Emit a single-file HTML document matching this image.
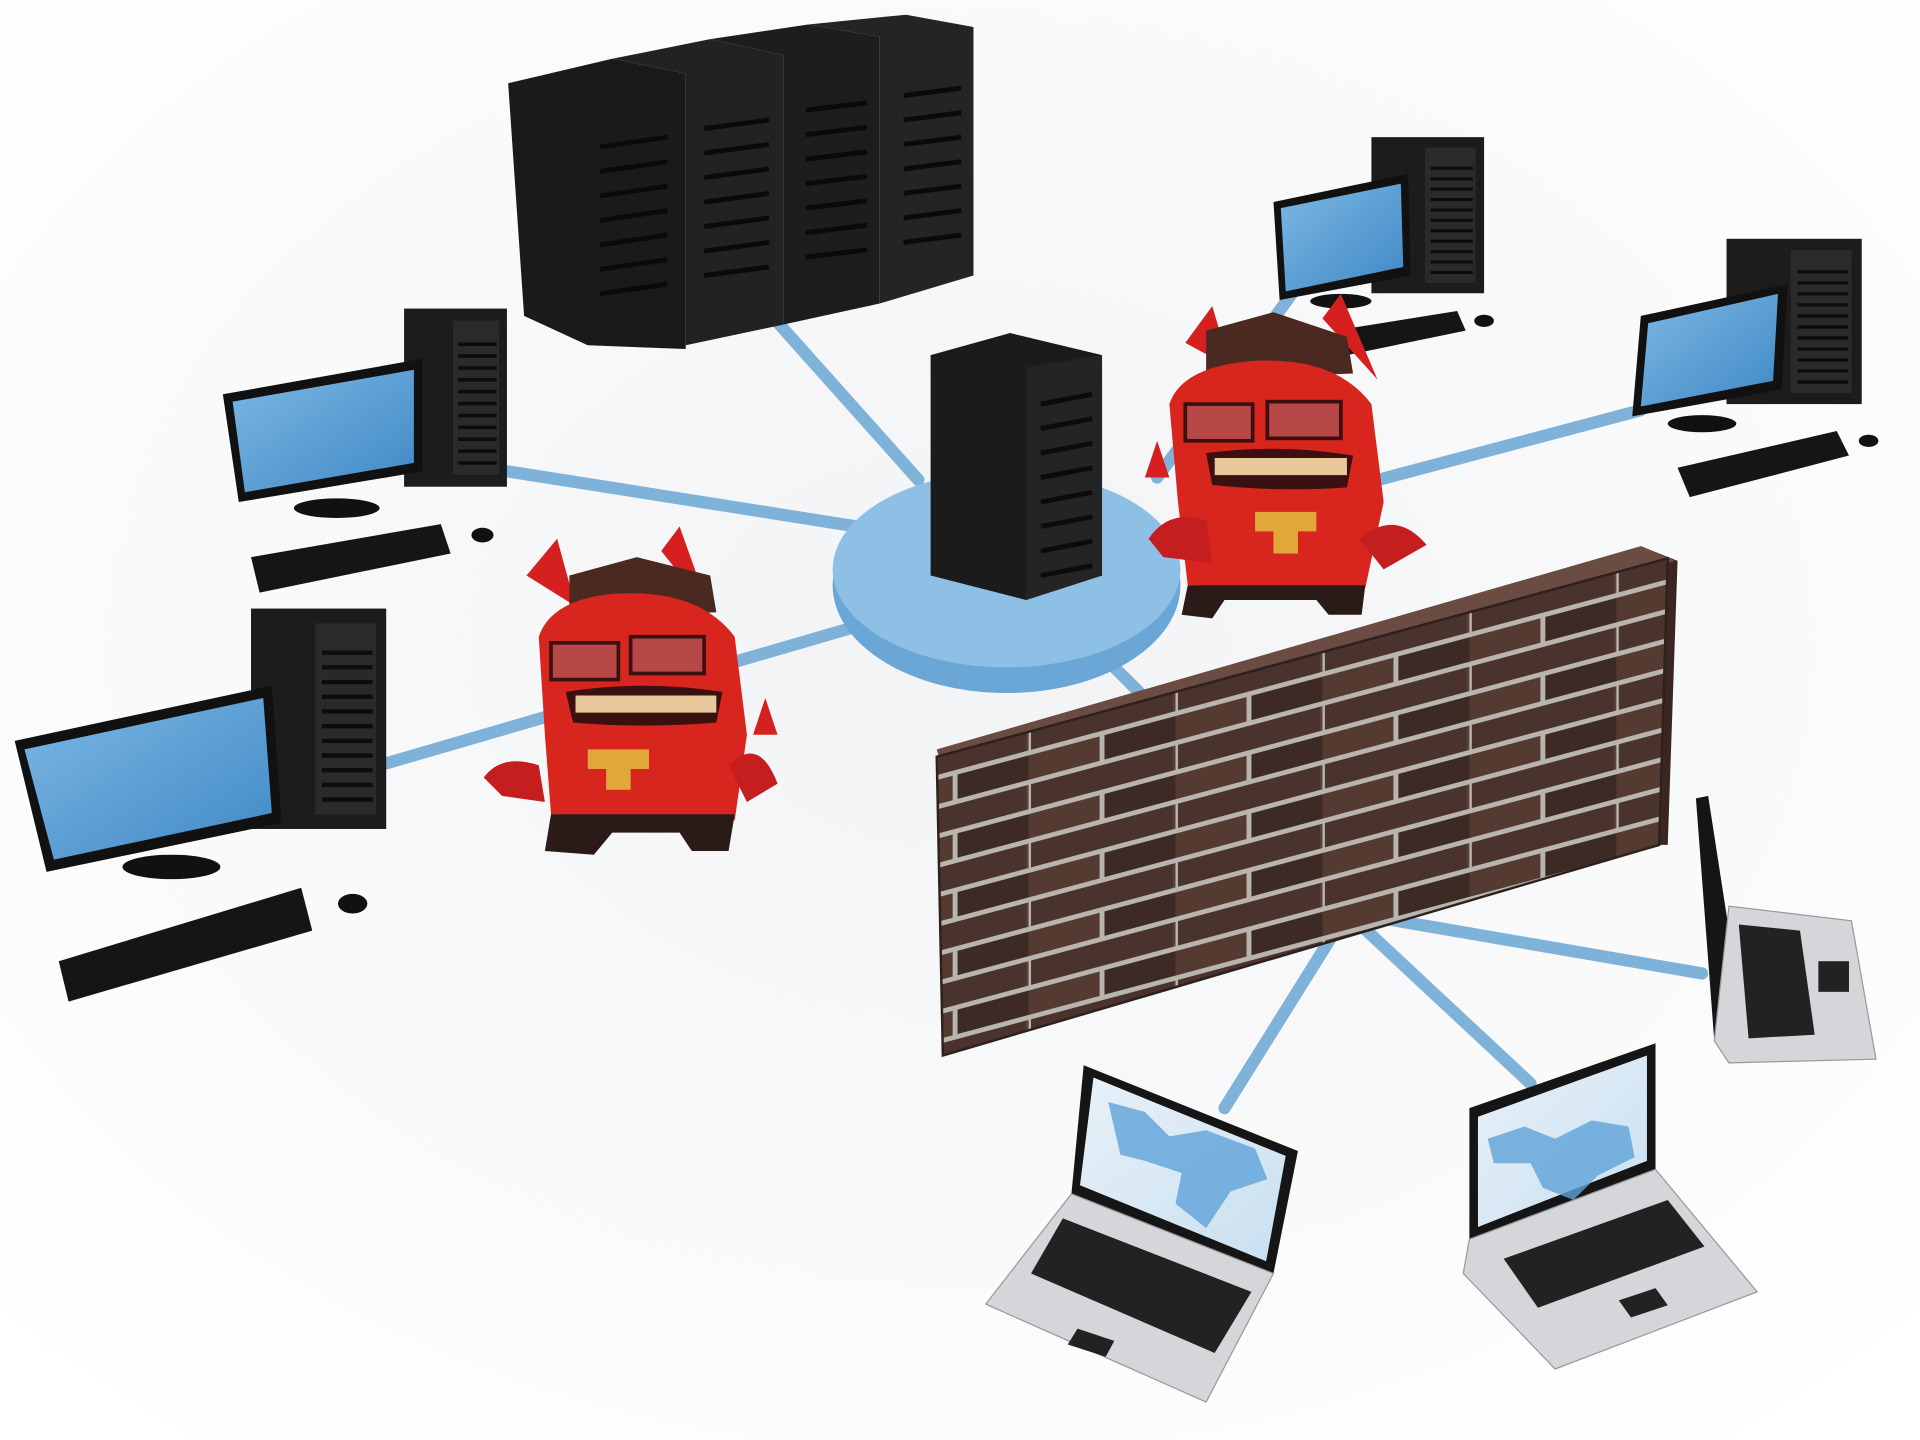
<!DOCTYPE html>
<html><head><meta charset="utf-8"><style>html,body{margin:0;padding:0;background:#fff;width:1920px;height:1440px;overflow:hidden}svg{display:block}</style></head>
<body>
<svg width="1920" height="1440" viewBox="0 0 1568 1176" preserveAspectRatio="none" xmlns="http://www.w3.org/2000/svg">
<defs>
<radialGradient id="bg" cx="0.5" cy="0.45" r="0.7"><stop offset="0" stop-color="#f2f3f5"/><stop offset="1" stop-color="#ffffff"/></radialGradient>
<linearGradient id="scr" x1="0" y1="0" x2="1" y2="1"><stop offset="0" stop-color="#7db7e3"/><stop offset="1" stop-color="#3f89c6"/></linearGradient>
<linearGradient id="lscr" x1="0" y1="0" x2="1" y2="1"><stop offset="0" stop-color="#e8f1f8"/><stop offset="1" stop-color="#c9dff0"/></linearGradient>
<pattern id="brick" width="120" height="48" patternUnits="userSpaceOnUse" patternTransform="skewY(-15)">
<rect width="120" height="48" fill="#5a4038"/>
<rect x="2" y="2" width="116" height="20" fill="#4a332c"/>
<rect x="-58" y="26" width="116" height="20" fill="#553a31"/>
<rect x="62" y="26" width="116" height="20" fill="#3e2a24"/>
<path d="M0 0H120M0 24H120M0 48H120M0 0V24M60 24V48" stroke="#b8b4ae" stroke-width="4"/>
</pattern>
<g id="tower"><rect x="0" y="0" width="80" height="150" fill="#1c1c1c"/><rect x="38" y="10" width="36" height="130" fill="#2a2a2a"/>
<g stroke="#0c0c0c" stroke-width="3"><path d="M42 30H72M42 40H72M42 50H72M42 60H72M42 70H72M42 80H72M42 90H72M42 100H72M42 110H72M42 120H72M42 130H72"/></g></g>
</defs>
<rect width="1568" height="1176" fill="url(#bg)"/>
<g stroke="#7fb2d8" stroke-width="10" stroke-linecap="round" fill="none">
<path d="M625 252L750 392"/><path d="M415 385L700 430"/><path d="M310 625L705 510"/>
<path d="M1095 400L1340 335"/><path d="M945 390L1055 240"/><path d="M910 545L935 570"/>
<path d="M1100 745L1000 905"/><path d="M1100 745L1250 885"/><path d="M1100 745L1390 795"/>
</g>
<g>
<polygon points="415,68 500,48 560,60 560,285 480,282 428,258" fill="#1a1a1a"/>
<polygon points="500,48 580,32 640,45 640,265 560,282 560,60" fill="#222"/>
<polygon points="580,32 660,20 718,30 718,248 640,265 640,45" fill="#1d1d1d"/>
<polygon points="660,20 740,12 795,22 795,225 718,248 718,30" fill="#242424"/>
<g stroke="#0a0a0a" stroke-width="4">
<path d="M490 120L545 112M490 140L545 132M490 160L545 152M490 180L545 172M490 200L545 192M490 220L545 212M490 240L545 232"/>
<path d="M575 105L628 98M575 125L628 118M575 145L628 138M575 165L628 158M575 185L628 178M575 205L628 198M575 225L628 218"/>
<path d="M658 90L708 84M658 110L708 104M658 130L708 124M658 150L708 144M658 170L708 164M658 190L708 184M658 210L708 204"/>
<path d="M738 78L785 72M738 98L785 92M738 118L785 112M738 138L785 132M738 158L785 152M738 178L785 172M738 198L785 192"/>
</g></g>
<ellipse cx="822" cy="478" rx="142" ry="88" fill="#6aa7d6"/>
<ellipse cx="822" cy="465" rx="142" ry="80" fill="#8ec0e6"/>
<polygon points="760,290 825,272 900,290 900,470 838,490 760,470" fill="#1b1b1b"/>
<polygon points="838,300 900,290 900,470 838,490" fill="#242424"/>
<g stroke="#0b0b0b" stroke-width="4"><path d="M850 330L892 322M850 350L892 342M850 370L892 362M850 390L892 382M850 410L892 402M850 430L892 422M850 450L892 442M850 470L892 462"/></g>
<g>
<use href="#tower" transform="translate(330,252) scale(1.05,0.97)"/>
<polygon points="182,322 345,293 345,385 195,410" fill="#111"/><polygon points="190,328 338,302 338,378 200,402" fill="url(#scr)"/>
<ellipse cx="275" cy="415" rx="35" ry="8" fill="#111"/>
<polygon points="205,455 360,428 368,452 212,484" fill="#151515"/><ellipse cx="394" cy="437" rx="9" ry="6" fill="#111"/>
</g>
<g>
<use href="#tower" transform="translate(205,497) scale(1.38,1.2)"/>
<polygon points="12,605 222,560 230,672 38,712" fill="#111"/><polygon points="20,612 215,570 222,664 44,702" fill="url(#scr)"/>
<ellipse cx="140" cy="708" rx="40" ry="10" fill="#111"/>
<polygon points="48,785 246,725 255,760 56,818" fill="#151515"/><ellipse cx="288" cy="738" rx="12" ry="8" fill="#111"/>
</g>
<g>
<use href="#tower" transform="translate(1120,112) scale(1.15,0.85)"/>
<polygon points="1040,165 1150,142 1152,225 1045,245" fill="#111"/><polygon points="1046,170 1144,150 1146,218 1050,238" fill="url(#scr)"/>
<ellipse cx="1095" cy="246" rx="25" ry="6" fill="#111"/>
<polygon points="1090,270 1190,254 1197,270 1100,290" fill="#151515"/><ellipse cx="1212" cy="262" rx="8" ry="5" fill="#111"/>
</g>
<g>
<use href="#tower" transform="translate(1410,195) scale(1.38,0.9)"/>
<polygon points="1340,258 1460,232 1455,318 1333,340" fill="#111"/><polygon points="1346,264 1452,240 1448,311 1340,332" fill="url(#scr)"/>
<ellipse cx="1390" cy="346" rx="28" ry="7" fill="#111"/>
<polygon points="1370,382 1500,352 1510,372 1380,406" fill="#151515"/><ellipse cx="1526" cy="360" rx="8" ry="5" fill="#111"/>
</g>
<polygon points="1340,446 1370,458 1362,690 1350,690" fill="#3a2722"/>
<polygon points="765,612 1340,446 1368,458 770,630" fill="#6a4c42"/>
<polygon points="765,618 1362,456 1355,690 770,862" fill="url(#brick)"/>
<polygon points="765,618 1362,456 1355,690 770,862" fill="none" stroke="#2e201c" stroke-width="2"/>
<g>
<polygon points="885,870 1060,940 1040,1040 875,975" fill="#151515"/><polygon points="893,880 1050,944 1034,1030 882,968" fill="url(#lscr)"/>
<path d="M905 900l30 8 20 20 30-5 40 15 10 25-30 10-20 30-25-20 5-25-30-10-20-5z" fill="#5fa3d8" opacity=".8"/>
<polygon points="875,975 1040,1040 985,1145 805,1065" fill="#d4d6d9" stroke="#999"/>
<polygon points="868,995 1022,1055 992,1105 842,1040" fill="#222"/><polygon points="880,1085 910,1095 903,1108 872,1098" fill="#222"/>
</g>
<g>
<polygon points="1200,905 1352,852 1352,955 1200,1012" fill="#151515"/><polygon points="1207,912 1345,862 1345,948 1207,1002" fill="url(#lscr)"/>
<path d="M1215 930l30-10 25 10 30-15 30 5 5 25-30 15-20 20-25-10-10-20-30 0z" fill="#5fa3d8" opacity=".8"/>
<polygon points="1200,1012 1352,955 1435,1055 1270,1118 1195,1040" fill="#d4d6d9" stroke="#999"/>
<polygon points="1228,1028 1362,980 1392,1018 1256,1068" fill="#222"/><polygon points="1322,1062 1352,1052 1362,1066 1332,1076" fill="#222"/>
</g>
<g>
<polygon points="1385,652 1395,650 1412,760 1410,848 1400,850" fill="#151515"/>
<polygon points="1400,850 1412,740 1512,752 1532,865 1412,868" fill="#d4d6d9" stroke="#999"/>
<polygon points="1420,755 1470,760 1482,845 1428,848" fill="#222"/><rect x="1485" y="785" width="25" height="25" fill="#222"/>
</g>
<g>
<path d="M430 470L455 440 470 495Z M540 450L555 430 580 500Z" fill="#d62020"/>
<path d="M465 470L520 455 580 470 585 500 465 505Z" fill="#4a2a20"/>
<path d="M440 520Q450 490 500 485Q570 480 600 520L610 600 600 670 450 665 445 600Z" fill="#d8261f"/>
<rect x="450" y="525" width="55" height="30" fill="#b84848" stroke="#3a1010" stroke-width="3"/><rect x="515" y="520" width="60" height="30" fill="#b84848" stroke="#3a1010" stroke-width="3"/>
<path d="M462 565Q525 555 590 565L585 590Q525 595 468 590Z" fill="#3a1010"/><path d="M470 568H585V582H470Z" fill="#e8c89a"/>
<path d="M480 612H530V628H515V645H495V628H480Z" fill="#e0a83a"/>
<path d="M395 635Q410 615 440 625L445 655 410 650Z M595 625Q620 600 635 640L610 655Z" fill="#c41e1e"/>
<path d="M615 600L625 570 635 600Z" fill="#d62020"/>
<path d="M450 665H600L595 695 565 695 555 680 500 680 485 698 445 695Z" fill="#2a1a18"/>
</g>
<g>
<path d="M968 280L990 250 1005 300Z M1080 260L1095 240 1125 310Z" fill="#d62020"/>
<path d="M985 270L1040 255 1100 275 1105 305 985 310Z" fill="#4a2a20"/>
<path d="M955 330Q965 300 1020 295Q1090 290 1120 330L1130 410 1115 480 970 478 962 410Z" fill="#d8261f"/>
<rect x="968" y="330" width="55" height="30" fill="#b84848" stroke="#3a1010" stroke-width="3"/><rect x="1035" y="328" width="60" height="30" fill="#b84848" stroke="#3a1010" stroke-width="3"/>
<path d="M985 370Q1045 362 1105 372L1100 398Q1045 402 990 396Z" fill="#3a1010"/><path d="M992 374H1100V388H992Z" fill="#e8c89a"/>
<path d="M1025 418H1075V434H1060V452H1040V434H1025Z" fill="#e0a83a"/>
<path d="M938 440Q955 415 985 425L990 460 950 455Z M1110 440Q1140 415 1165 445L1130 465Z" fill="#c41e1e"/>
<path d="M935 390L945 360 955 390Z" fill="#d62020"/>
<path d="M970 478H1115L1112 502 1085 502 1075 490 1000 490 990 505 965 502Z" fill="#2a1a18"/>
</g>
</svg>
</body></html>
